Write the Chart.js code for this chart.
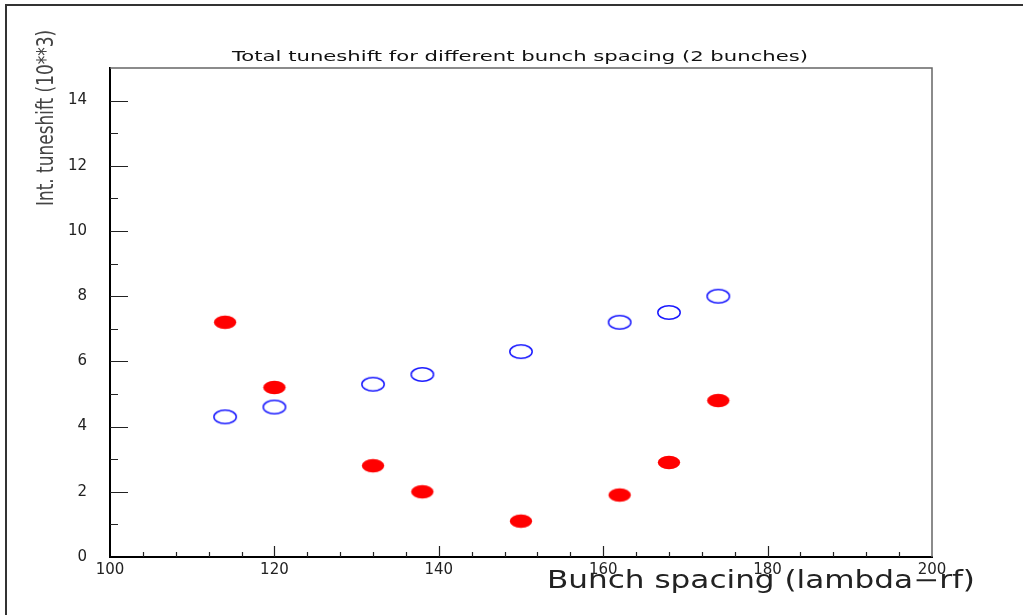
<!DOCTYPE html>
<html>
<head>
<meta charset="utf-8">
<script src="https://cdn.jsdelivr.net/npm/chart.js@4/dist/chart.umd.min.js"></script>
<style>
  html, body { margin: 0; padding: 0; background: #fff; }
  #chart { display: block; }
</style>
</head>
<body>
<canvas id="chart" width="1023" height="615"></canvas>
<script>
// bunch spacing in units of lambda-rf
const spacing = [114, 120, 132, 138, 150, 162, 168, 174];
// integrated tuneshift (x 10**3), two families of bunches
const tuneOpen = [4.3, 4.6, 5.3, 5.6, 6.3, 7.2, 7.5, 8.0];
const tuneFilled = [7.2, 5.2, 2.8, 2.0, 1.1, 1.9, 2.9, 4.8];
const xTicks = [100, 120, 140, 160, 180, 200];
const yTicks = [0, 2, 4, 6, 8, 10, 12, 14];

const titleText = "Total tuneshift for different bunch spacing (2 bunches)";
const xTitle = "Bunch spacing (lambda\u2212rf)";
const yTitle = "Int. tuneshift (10**3)";

// elliptical markers, wider than tall
function ellipse(fill, stroke) {
    const c = document.createElement("canvas");
    c.width = 26;
    c.height = 17;
    const g = c.getContext("2d");
    g.beginPath();
    g.ellipse(13, 8.5, 11.2, 6.7, 0, 0, Math.PI * 2);
    if (fill) { g.fillStyle = fill; g.fill(); }
    if (stroke) { g.strokeStyle = stroke; g.lineWidth = 1.5; g.stroke(); }
    return c;
}

// text squeezed or stretched to a given width
function fitText(ctx, text, x, y, width, size, rot, color) {
    ctx.save();
    ctx.font = size + "px 'DejaVu Sans'";
    const w = ctx.measureText(text).width;
    ctx.translate(x, y);
    if (rot) ctx.rotate(rot);
    ctx.scale(width / w, 1);
    ctx.textAlign = "left";
    ctx.textBaseline = "middle";
    ctx.fillStyle = color || "#111";
    ctx.fillText(text, 0, 0);
    ctx.restore();
}

const decorations = {
    id: "decorations",
    afterDraw(chart) {
        const ctx = chart.ctx;
        const a = chart.chartArea;
        const xs = chart.scales.x;
        const ys = chart.scales.y;

        ctx.save();
        // outer frame
        ctx.strokeStyle = "#333";
        ctx.lineWidth = 2;
        ctx.beginPath();
        ctx.moveTo(6, 615);
        ctx.lineTo(6, 5);
        ctx.lineTo(1023, 5);
        ctx.stroke();

        // top and right edges of the plot box
        ctx.strokeStyle = "#666";
        ctx.lineWidth = 1.5;
        ctx.beginPath();
        ctx.moveTo(a.left, a.top);
        ctx.lineTo(a.right, a.top);
        ctx.lineTo(a.right, a.bottom);
        ctx.stroke();

        // inward tick marks
        ctx.strokeStyle = "#222";
        ctx.lineWidth = 1.2;
        ctx.beginPath();
        for (let v = 1; v < 15; v++) {
            const py = Math.round(ys.getPixelForValue(v)) + 0.5;
            const len = v % 2 === 0 ? 18 : 8;
            ctx.moveTo(a.left, py);
            ctx.lineTo(a.left + len, py);
        }
        for (let v = 104; v < 200; v += 4) {
            const px = Math.round(xs.getPixelForValue(v)) + 0.5;
            const len = v % 20 === 0 ? 11 : 5;
            ctx.moveTo(px, a.bottom);
            ctx.lineTo(px, a.bottom - len);
        }
        ctx.stroke();
        ctx.restore();

        fitText(ctx, titleText, 232, 57, 576, 14, 0, "#111");
        fitText(ctx, xTitle, 547, 582, 428, 24, 0, "#222");
        fitText(ctx, yTitle, 47, 206, 176, 23, -Math.PI / 2, "#444");
    }
};

const chartCanvas = document.getElementById("chart").getContext("2d");

new Chart(chartCanvas, {
    type: "scatter",
    data: {
        datasets: [{
            label: "open",
            data: spacing.map((s, i) => ({ x: s, y: tuneOpen[i] })),
            pointStyle: ellipse(null, "#1a1aff"),
            pointRadius: 8,
            pointHoverRadius: 8
        }, {
            label: "filled",
            data: spacing.map((s, i) => ({ x: s, y: tuneFilled[i] })),
            pointStyle: ellipse("#ff0000", null),
            pointRadius: 8,
            pointHoverRadius: 8
        }]
    },
    options: {
        responsive: false,
        animation: false,
        events: [],
        layout: { padding: { left: 0, top: 68, right: 91, bottom: 0 } },
        plugins: {
            legend: { display: false },
            tooltip: { enabled: false }
        },
        scales: {
            x: {
                type: "linear",
                min: 100,
                max: 200,
                afterBuildTicks: s => { s.ticks = xTicks.map(v => ({ value: v })); },
                afterFit: s => { s.height = 58; },
                grid: { display: false, drawTicks: false, tickLength: 0 },
                border: { display: true, color: "#000", width: 2 },
                ticks: {
                    color: "#222",
                    padding: 4,
                    maxRotation: 0,
                    font: { family: "'DejaVu Sans'", size: 15 }
                }
            },
            y: {
                type: "linear",
                min: 0,
                max: 15,
                afterBuildTicks: s => { s.ticks = yTicks.map(v => ({ value: v })); },
                afterFit: s => { s.width = 110; },
                grid: { display: false, drawTicks: false, tickLength: 0 },
                border: { display: true, color: "#000", width: 2 },
                ticks: {
                    color: "#222",
                    padding: 23,
                    font: { family: "'DejaVu Sans'", size: 15 }
                }
            }
        }
    },
    plugins: [decorations]
});
</script>
</body>
</html>
